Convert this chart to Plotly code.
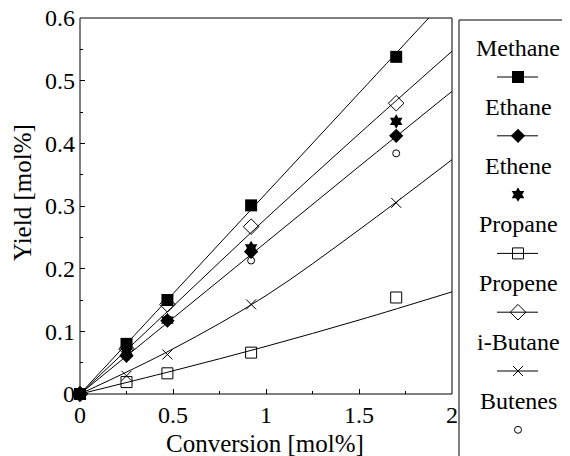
import plotly.graph_objects as go

# the page body has an 8px margin: positions below are reference pixels minus OFF
OFF = 8
W, H = 570, 456

conversion = [0, 0.25, 0.47, 0.92, 1.70]
methane = [0, 0.080, 0.150, 0.301, 0.538]
ethane = [0, 0.061, 0.117, 0.227, 0.412]
ethene = [0, 0.068, 0.118, 0.233, 0.435]
propane = [0, 0.019, 0.033, 0.066, 0.154]
propene = [0, 0.072, 0.143, 0.267, 0.464]
ibutane = [0, 0.029, 0.063, 0.143, 0.305]
butenes = [0, 0.068, 0.120, 0.213, 0.384]

fit_x = [0, 0.5, 1.0, 1.5, 2.0]
fit_methane = [0, 0.16, 0.32, 0.48, 0.64]
fit_propene = [0, 0.14, 0.28, 0.415, 0.547]
fit_ethane = [0, 0.121, 0.242, 0.363, 0.483]
fit_ibutane = [0, 0.072, 0.157, 0.262, 0.374]
fit_propane = [0, 0.037, 0.076, 0.118, 0.163]

xticks = [0, 0.5, 1, 1.5, 2]
xtick_text = ["0", "0.5", "1", "1.5", "2"]
yticks = [0, 0.1, 0.2, 0.3, 0.4, 0.5, 0.6]
ytick_text = ["0", "0.1", "0.2", "0.3", "0.4", "0.5", "0.6"]

series = [
    ("Methane", methane, dict(symbol="square", size=12, color="black"), True),
    ("Ethane", ethane, dict(symbol="diamond", size=11, color="black"), True),
    ("Ethene", ethene, dict(symbol="hexagram", size=11, color="black"), False),
    ("Propane", propane, dict(symbol="square-open", size=11, color="black", line=dict(width=1)), True),
    ("Propene", propene, dict(symbol="diamond-open", size=12, color="black", line=dict(width=1)), True),
    ("i-Butane", ibutane, dict(symbol="x-thin-open", size=10, color="black", line=dict(width=1, color="black")), True),
    ("Butenes", butenes, dict(symbol="circle-open", size=7, color="black", line=dict(width=1)), False),
]
fits = [fit_methane, fit_propene, fit_ethane, fit_ibutane, fit_propane]

FONT = "Liberation Serif, Times New Roman, DejaVu Serif, serif"
TICK_FS, TITLE_FS, LEG_FS = 24, 25, 24
fig = go.Figure()

for f in fits:
    fig.add_trace(go.Scatter(x=fit_x, y=f, mode="lines", line=dict(color="black", width=1, shape="spline"),
                             showlegend=False, hoverinfo="skip"))
for name, ys, mk, _ in series:
    fig.add_trace(go.Scatter(x=conversion, y=ys, mode="markers", marker=mk, name=name,
                             showlegend=False, cliponaxis=False))

x_left, x_right = 80 - OFF, 452 - OFF
y_top, y_bottom = 18 - OFF, 394 - OFF
leg_left, leg_top = 459 - OFF, 20 - OFF
row0, step = 48 - OFF, 58.8
leg_cx = 518 - OFF
for i, (name, ys, mk, has_line) in enumerate(series):
    ty = row0 + i * step
    my = ty + 29
    fig.add_annotation(text=name, x=leg_cx, y=ty, xref="x2", yref="y2", showarrow=False,
                       font=dict(family=FONT, size=LEG_FS, color="black"), xanchor="center", yanchor="middle")
    if has_line:
        fig.add_trace(go.Scatter(x=[leg_cx - 21, leg_cx + 20], y=[my, my], mode="lines",
                                 line=dict(color="black", width=1),
                                 xaxis="x2", yaxis="y2", showlegend=False, hoverinfo="skip"))
    fig.add_trace(go.Scatter(x=[leg_cx], y=[my], mode="markers", marker=mk,
                             xaxis="x2", yaxis="y2", showlegend=False, hoverinfo="skip"))

# axis titles
fig.add_annotation(text="Conversion [mol%]", x=265 - OFF, y=443 - OFF, xref="x2", yref="y2", showarrow=False,
                   font=dict(family=FONT, size=TITLE_FS, color="black"), xanchor="center", yanchor="middle")
fig.add_annotation(text="Yield [mol%]", x=22 - OFF, y=193 - OFF, xref="x2", yref="y2", showarrow=False,
                   textangle=-90, font=dict(family=FONT, size=TITLE_FS, color="black"),
                   xanchor="center", yanchor="middle")

# plot frame and legend frame
fig.add_shape(type="rect", xref="x domain", yref="y domain", x0=0, x1=1, y0=0, y1=1,
              line=dict(color="black", width=1), fillcolor="rgba(0,0,0,0)")
fig.add_shape(type="rect", xref="paper", yref="paper", x0=leg_left / W, x1=1.05, y0=-0.05, y1=1 - leg_top / H,
              line=dict(color="black", width=1), fillcolor="rgba(0,0,0,0)")

axis_common = dict(showline=False, showgrid=False, zeroline=False,
                   ticks="inside", ticklen=5, tickcolor="black", ticklabeloverflow="allow",
                   tickfont=dict(family=FONT, size=TICK_FS, color="black"))

fig.update_layout(
    width=W, height=H, margin=dict(l=0, r=0, t=0, b=0), paper_bgcolor="white", plot_bgcolor="rgba(0,0,0,0)",
    showlegend=False,
    xaxis=dict(domain=[x_left / W, x_right / W], range=[0, 2], tickvals=xticks, ticktext=xtick_text,
               automargin=False, ticklabelstandoff=4,
               minor=dict(ticks="inside", ticklen=3, tickcolor="black", tickvals=[0.25, 0.75, 1.25, 1.75]),
               **axis_common),
    yaxis=dict(domain=[1 - y_bottom / H, 1 - y_top / H], range=[0, 0.6], tickvals=yticks, ticktext=ytick_text,
               automargin=False, ticklabelstandoff=4,
               minor=dict(ticks="inside", ticklen=3, tickcolor="black",
                          tickvals=[0.05, 0.15, 0.25, 0.35, 0.45, 0.55]),
               **axis_common),
    xaxis2=dict(domain=[0, 1], range=[0, W], visible=False, fixedrange=True, anchor="y2"),
    yaxis2=dict(domain=[0, 1], range=[H, 0], visible=False, fixedrange=True, anchor="x2"),
)
fig.write_html("out.html")
